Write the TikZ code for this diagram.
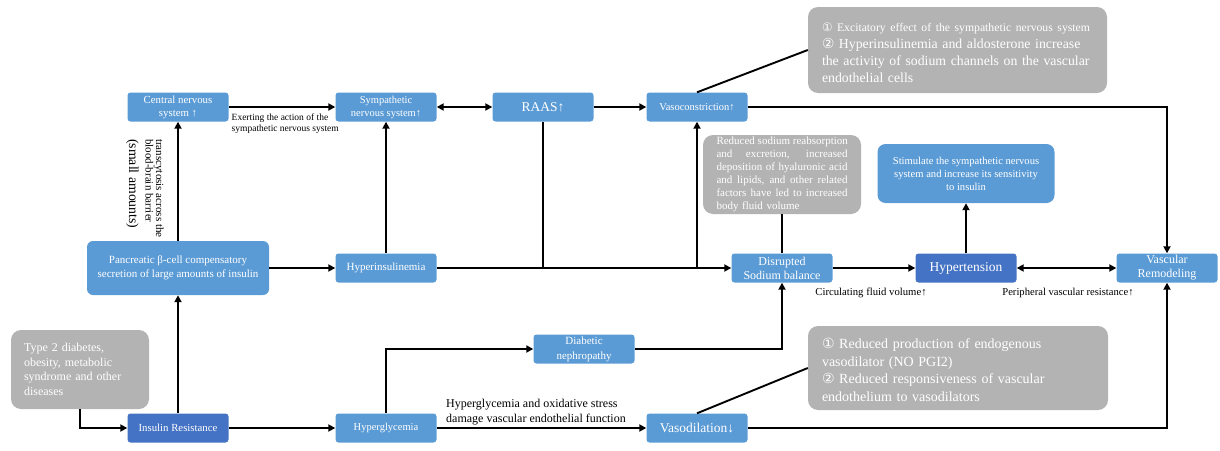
\documentclass[tikz,border=0pt]{standalone}
\usepackage{fontspec}
\setmainfont{Liberation Serif}
\newfontfamily\circfont{DejaVu Sans}
\usetikzlibrary{arrows.meta}
\definecolor{boxblue}{HTML}{5B9BD5}
\definecolor{darkblue}{HTML}{4472C4}
\definecolor{notegray}{HTML}{B3B3B3}
\newcommand{\fs}[2]{\fontsize{#1}{#2}\selectfont}
\newcommand{\cnum}[1]{{\circfont #1}}
\newcommand{\jline}[1]{\leavevmode\hbox to 131pt{\spaceskip=0.25em plus 1fil\relax #1}}
\tikzset{
	box/.style={fill=boxblue, text=white, rounded corners=3pt, minimum width=101pt, minimum height=29pt, inner sep=1pt, align=center},
	darkbox/.style={box, fill=darkblue},
	note/.style={fill=notegray, text=white, rounded corners=10pt, inner sep=0pt},
	arr/.style={line width=1.9pt, -{Triangle[length=7pt,width=7pt]}},
	dblarr/.style={line width=1.9pt, {Triangle[length=7pt,width=7pt]}-{Triangle[length=7pt,width=7pt]}},
	link/.style={line width=1.9pt},
	lbl/.style={inner sep=0pt, align=left}
}
\begin{document}
\begin{tikzpicture}[x=1pt,y=-1pt]
	\useasboundingbox (0,0) rectangle (1220,450);
	\node[darkbox, font=\fs{10.8}{12}] (ins) at (178,428) {Insulin Resistance};
	\node[box, minimum width=182pt, minimum height=54pt, rounded corners=6pt, font=\fs{11}{14}] (panc) at (178,268) {Pancreatic β-cell compensatory\\secretion of large amounts of insulin};
	\node[box, font=\fs{10.8}{13}] (cns) at (178,107) {Central nervous\\system ↑};
	\node[box, font=\fs{10.5}{13}] (sns) at (386,107) {Sympathetic\\nervous system↑};
	\node[box, font=\fs{13.5}{15}] (raas) at (543,107) {RAAS↑};
	\node[box, font=\fs{10.5}{13}] (vasoc) at (697,107) {Vasoconstriction↑};
	\node[box, font=\fs{11}{13}] (hyperins) at (386,268) {Hyperinsulinemia};
	\node[box, font=\fs{12}{14}] (sodium) at (782,268) {Disrupted\\Sodium balance};
	\node[darkbox, font=\fs{13.5}{15}] (hyper) at (966,268) {Hypertension};
	\node[box, font=\fs{12}{14}] (vasc) at (1167,268) {Vascular\\Remodeling};
	\node[box, font=\fs{10.5}{13}] (hyperg) at (386,428) {Hyperglycemia};
	\node[box, minimum height=29pt, font=\fs{11}{15}] (neph) at (584,349) {Diabetic\\nephropathy};
	\node[box, font=\fs{13.5}{15}] (vasod) at (697,428) {Vasodilation↓};
	\node[box, minimum width=177pt, minimum height=59pt, rounded corners=8pt, font=\fs{10.6}{13}] (stim) at (966,173.5) {Stimulate the sympathetic nervous\\system and increase its sensitivity\\to insulin};
	\node[note, minimum width=138pt, minimum height=79pt, text width=112pt, align=left, font=\fs{12}{14.5}] (type2) at (80,369.5) {Type 2 diabetes,\\obesity, metabolic\\syndrome and other\\diseases};
	\node[note, minimum width=158pt, minimum height=79pt, text width=131pt, align=left, font=\fs{11}{12.9}] (sodnote) at (782,174.5) {\jline{Reduced sodium reabsorption}\\\jline{and excretion, increased}\\\jline{deposition of hyaluronic acid}\\\jline{and lipids, and other related}\\\jline{factors have led to increased}\\body fluid volume};
	\node[note, minimum width=299pt, minimum height=86pt, text width=271pt, align=left, font=\fs{13.8}{17}] (vconote) at (957.5,50) {{\fs{11.7}{17}\rule{0pt}{15pt}\cnum{①} Excitatory effect of the sympathetic nervous system}\\\cnum{②} Hyperinsulinemia and aldosterone increase\\the activity of sodium channels on the vascular\\endothelial cells};
	\node[note, minimum width=300pt, minimum height=84pt, text width=272pt, align=left, font=\fs{14}{17.5}] (vdlnote) at (958,368) {\rule{0pt}{14pt}\cnum{①} Reduced production of endogenous\\vasodilator (NO PGI2)\\\cnum{②} Reduced responsiveness of vascular\\endothelium to vasodilators};
	\draw[arr] (type2.south) |- (ins.west);
	\draw[arr] (ins) -- (panc);
	\draw[arr] (ins) -- (hyperg);
	\draw[arr] (panc) -- (cns);
	\node[lbl, rotate=-90, anchor=north west, font=\fs{11}{10.5}] (bbb) at (164,139) {transcytosis across the\\blood-brain barrier\\[6pt]{\fs{13.8}{10.5}(small amounts)}};
	\draw[arr] (panc) -- (hyperins);
	\draw[arr] (cns) -- (sns);
	\node[lbl, anchor=north west, font=\fs{9.5}{11}] (exert) at (231.5,114) {Exerting the action of the\\sympathetic nervous system};
	\draw[arr] (hyperins) -- (sns);
	\draw[dblarr] (sns) -- (raas);
	\draw[arr] (raas) -- (vasoc);
	\draw[link] (raas.south) -- (raas.south |- hyperins.east);
	\draw[arr] (hyperins) -- (sodium);
	\draw[arr] (vasoc.south |- hyperins.east) -- (vasoc.south);
	\draw[link] (vasoc.north) -- (vconote.west);
	\draw[arr] (vasoc.east) -| (vasc.north);
	\draw[link] (sodnote.south) -- (sodium.north);
	\draw[arr] (sodium) -- (hyper);
	\node[lbl, font=\fs{10.7}{12}] (fluid) at (871,293) {Circulating fluid volume↑};
	\draw[arr] (hyper) -- (stim);
	\draw[dblarr] (hyper) -- (vasc);
	\node[lbl, font=\fs{10.6}{12}] (resist) at (1068,293) {Peripheral vascular resistance↑};
	\draw[arr] (hyperg.north) |- (neph.west);
	\draw[arr] (neph.east) -| (sodium.south);
	\draw[arr] (hyperg) -- (vasod);
	\node[lbl, anchor=west, font=\fs{12}{15}] (damage) at (446,412.5) {Hyperglycemia and oxidative stress\\damage vascular endothelial function};
	\draw[link] (vasod.north) -- (vdlnote.west);
	\draw[arr] (vasod.east) -| (vasc.south);
\end{tikzpicture}
\end{document}
